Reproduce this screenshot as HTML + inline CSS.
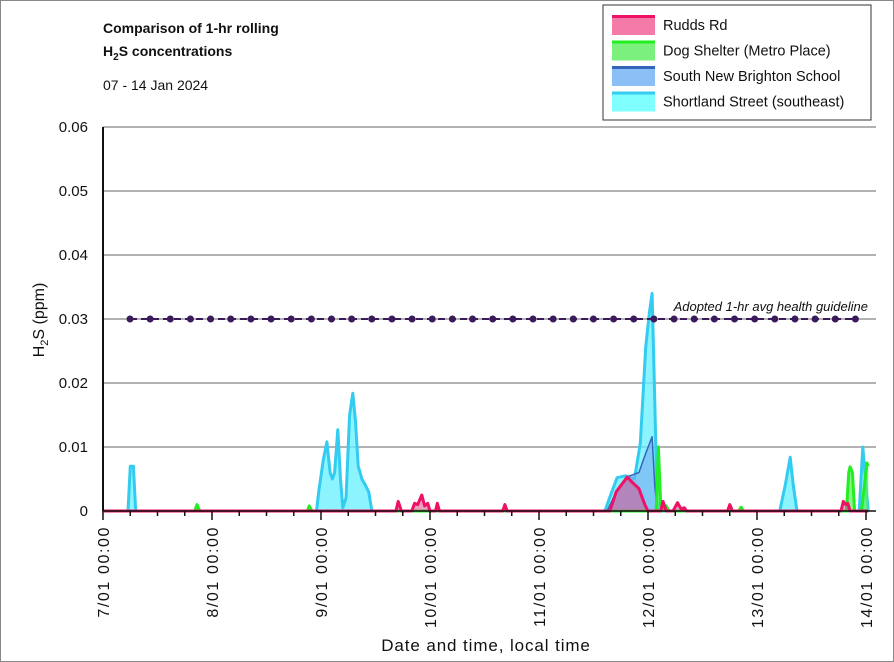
<!DOCTYPE html>
<html><head><meta charset="utf-8"><style>
body{margin:0;background:#fff;}
svg{display:block;font-family:"Liberation Sans",sans-serif;}
</style></head><body>
<svg id="chart" width="894" height="662" viewBox="0 0 894 662">
<rect x="0.5" y="0.5" width="893" height="661" fill="#fff" stroke="#888"/>
<text x="103" y="33" font-size="14" font-weight="bold" fill="#111">Comparison of 1-hr rolling</text>
<text x="103" y="56" font-size="14" font-weight="bold" fill="#111">H<tspan font-size="10" dy="4">2</tspan><tspan dy="-4">S concentrations</tspan></text>
<text x="103" y="90" font-size="14" fill="#111">07 - 14 Jan 2024</text>
<g id="grid"></g>
<g id="series"></g>
<g id="axes"></g>
<g id="legend">
<rect x="603" y="5" width="268" height="115" fill="#fff" stroke="#333"/>
</g>
<text x="486" y="651" font-size="17" letter-spacing="0.9" text-anchor="middle" fill="#111">Date and time, local time</text>
<text transform="translate(44,320) rotate(-90)" font-size="16" text-anchor="middle" fill="#111">H<tspan font-size="11" dy="4">2</tspan><tspan dy="-4">S (ppm)</tspan></text>
</svg>
<script>
const yTicks=[0,0.01,0.02,0.03,0.04,0.05,0.06];
const yTickLabels=["0","0.01","0.02","0.03","0.04","0.05","0.06"];
const xTickLabels=["7/01 00:00","8/01 00:00","9/01 00:00","10/01 00:00","11/01 00:00","12/01 00:00","13/01 00:00","14/01 00:00"];
const guideline=0.03;
const shortland=[[0,0],[5.5,0],[6,0.007],[6.7,0.007],[7.2,0],[47,0],[47.5,0.003],[48.5,0.008],[49.3,0.0108],[50,0.006],[50.5,0.005],[51,0.006],[51.7,0.0127],[52.3,0.005],[52.8,0.0005],[53.5,0.002],[54.3,0.015],[55,0.0184],[55.6,0.014],[56.2,0.007],[57,0.005],[57.8,0.004],[58.5,0.003],[59.2,0],[110.5,0],[111.5,0.002],[113.2,0.0052],[115,0.0055],[117,0.005],[118.3,0.0106],[119.5,0.0256],[120.3,0.031],[120.9,0.034],[121.5,0.017],[122,0.0015],[122.6,0],[149,0],[150.2,0.004],[151.3,0.0084],[152,0.004],[152.8,0],[166.5,0],[167.3,0.0100],[168,0.004],[168.5,0]];
const sbs=[[0,0],[111,0],[113,0.003],[116,0.0055],[118,0.006],[119.5,0.009],[120.9,0.0116],[121.5,0.004],[122,0],[168.5,0]];
const dog=[[0,0],[20.2,0],[20.7,0.001],[21.3,0],[45,0],[45.4,0.0008],[46,0],[121.8,0],[122.3,0.010],[122.8,0.001],[123.2,0],[124,0.0008],[124.6,0],[140,0],[140.5,0.0006],[141,0],[163.7,0],[164.2,0.006],[164.5,0.0069],[165,0.006],[165.5,0],[167,0],[168.2,0.0075],[168.5,0.007]];
const rudds=[[0,0],[64.5,0],[65,0.0015],[65.7,0],[68,0],[68.6,0.0012],[69.3,0.001],[70.2,0.0025],[70.8,0.0008],[71.5,0.0012],[72,0],[73.2,0],[73.6,0.0012],[74.1,0],[88,0],[88.5,0.001],[89,0],[111.6,0],[113,0.003],[115.4,0.0053],[116.5,0.0045],[118,0.0035],[119.3,0.001],[120,0],[122.8,0],[123.3,0.0015],[124,0],[125.5,0],[126.5,0.0013],[127.3,0.0003],[128,0.0005],[128.5,0],[137.5,0],[138,0.001],[138.6,0],[162.5,0],[163,0.0015],[163.6,0.001],[164,0.0012],[164.5,0],[168.5,0]];
const X0=103,PXH=109/24,Y0=511,PXV=6400;
function xs(h){return X0+h*PXH;}
function ys(v){return Y0-v*PXV;}
const NS="http://www.w3.org/2000/svg";
function mk(tag,attrs,parent){const e=document.createElementNS(NS,tag);for(const k in attrs)e.setAttribute(k,attrs[k]);parent.appendChild(e);return e;}
const grid=document.getElementById('grid'),axes=document.getElementById('axes'),ser=document.getElementById('series');
yTicks.forEach((t,i)=>{
 if(i>0){const l=mk('line',{x1:103,x2:876,y1:ys(t),y2:ys(t),stroke:'#999','stroke-width':1.5},grid);
 
 }
 const tx=mk('text',{x:88,y:ys(t)+5,'font-size':15,'text-anchor':'end',fill:'#111'},axes);tx.textContent=yTickLabels[i];
 
 
});
function area(data,fill,stroke,sw,name){
 let d='M'+xs(data[0][0])+','+Y0;data.forEach(p=>{d+=' L'+xs(p[0]).toFixed(1)+','+ys(p[1]).toFixed(1);});
 d+=' L'+xs(data[data.length-1][0])+','+Y0+'Z';
 const a=mk('path',{d:d,fill:fill,stroke:'none'},ser);
 
 
 let d2='';data.forEach((p,i)=>{d2+=(i?' L':'M')+xs(p[0]).toFixed(1)+','+ys(p[1]).toFixed(1);});
 const l=mk('path',{d:d2,fill:'none',stroke:stroke,'stroke-width':sw,'stroke-linejoin':'round'},ser);
 
 
}
area(shortland,'rgba(100,240,255,0.75)','#33ccf0',3,'shortland-street');
area(sbs,'rgba(120,170,240,0.6)','#3366bb',1.5,'south-new-brighton');
area(dog,'rgba(90,240,90,0.7)','#22ee22',3,'dog-shelter');
area(rudds,'rgba(220,80,140,0.55)','#ee1166',3,'rudds-rd');
const gl=mk('line',{x1:130,x2:855,y1:ys(guideline),y2:ys(guideline),stroke:'#3a1a5a','stroke-width':2,'stroke-dasharray':'7,4'},ser);


for(let x=130;x<=856;x+=20.15){const c=mk('circle',{cx:x,cy:ys(guideline),r:3.5,fill:'#3a1a5a'},ser);
 
 }
const gt=mk('text',{x:868,y:ys(guideline)-8,'font-size':13,'font-style':'italic','text-anchor':'end',fill:'#111'},ser);gt.textContent='Adopted 1-hr avg health guideline';


const ya=mk('line',{x1:103,x2:103,y1:127,y2:511,stroke:'#111','stroke-width':2},axes);


const xa=mk('line',{x1:103,x2:876,y1:511,y2:511,stroke:'#111','stroke-width':1.5},axes);


for(let h=0;h<=168;h+=6){const major=h%24===0;const tk=mk('line',{x1:xs(h),x2:xs(h),y1:511,y2:major?520:516,stroke:'#111','stroke-width':1.5},axes);
 
 }
xTickLabels.forEach((lab,i)=>{const x=xs(i*24);
 const t=mk('text',{transform:'translate('+(x+6)+',526) rotate(-90)','font-size':16,'letter-spacing':'1.6','text-anchor':'end',fill:'#111'},axes);t.textContent=lab;
 
 });
const lg=document.getElementById('legend');
const legendNames=["Rudds Rd","Dog Shelter (Metro Place)","South New Brighton School","Shortland Street (southeast)"];
const legendFill=['#f47aa8','#7cf07c','#8cbff5','#80ffff'];const legendStroke=['#ee1166','#22ee22','#3366bb','#33ccf0'];
legendNames.forEach((n,i)=>{const y=15+i*25.5;
 const r=mk('rect',{x:612,y:y,width:43,height:20,fill:legendFill[i]},lg);
 
 
 mk('line',{x1:612,x2:655,y1:y+1.5,y2:y+1.5,stroke:legendStroke[i],'stroke-width':3},lg);
 const t=mk('text',{x:663,y:y+15,'font-size':14.5,fill:'#111'},lg);t.textContent=n;
 
 });
</script>
</body></html>
